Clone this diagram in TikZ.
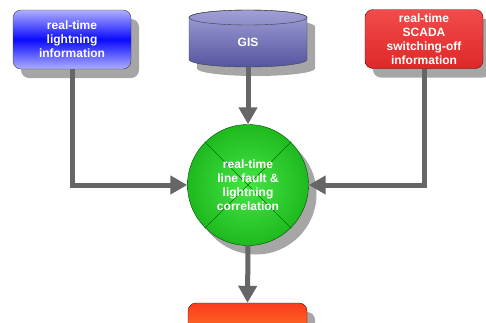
\documentclass[tikz,border=0pt]{standalone}
\usepackage{fontspec}
\setmainfont{Liberation Sans}
\usetikzlibrary{arrows.meta,shadows}

\tikzset{
  boxshadow/.style={drop shadow={shadow xshift=8pt, shadow yshift=-9pt, fill=black!35, opacity=1}},
  labeltext/.style={text=white, align=center, font=\fontsize{12}{14}\selectfont\bfseries},
  infobox/.style={rectangle, rounded corners=8pt, draw=black!75, minimum width=118pt, minimum height=59pt, labeltext, boxshadow},
  flow/.style={line width=5pt, draw=black!60, line join=miter, -{Triangle[width=18pt,length=17pt]}},
}

\begin{document}
\begin{tikzpicture}[x=1pt, y=-1pt]
    \useasboundingbox (0,0) rectangle (486,322);
    \clip (0,0) rectangle (486,322);

    % Input sources (top row)
    \node[infobox, top color={rgb,255:red,175;green,175;blue,255}, bottom color={rgb,255:red,175;green,175;blue,255}, middle color={rgb,255:red,10;green,10;blue,255}] (light) at (72,39.5) {real-time\\lightning\\information};

    \node[infobox, top color={rgb,255:red,242;green,75;blue,75}, bottom color={rgb,255:red,222;green,40;blue,40}, draw=black!60!red] (scada) at (424,39) {real-time\\SCADA\\switching-off\\information};

    % GIS database (cylinder)
    \path[boxshadow, draw=black!75, top color={rgb,255:red,160;green,160;blue,215}, bottom color={rgb,255:red,85;green,85;blue,160}]
        (189,17.5) -- (189,59.5) arc[start angle=180, end angle=360, x radius=59pt, y radius=7.5pt]
        -- (307,17.5) arc[start angle=0, end angle=180, x radius=59pt, y radius=7.5pt] -- cycle;
    \draw[black!75] (248,17.5) ellipse[x radius=59pt, y radius=7.5pt];
    \node[labeltext, minimum width=118pt, minimum height=50pt] (gis) at (248,42) {GIS};

    % Correlation
    \node[circle, minimum size=121pt, draw=black!70!green, inner color={rgb,255:red,70;green,230;blue,70}, outer color={rgb,255:red,30;green,185;blue,30}, boxshadow, labeltext,
          path picture={\draw[black!55!green] (path picture bounding box.north west) -- (path picture bounding box.south east)
                                              (path picture bounding box.north east) -- (path picture bounding box.south west);}]
        (corr) at (248,185) {real-time\\line fault \&\\lightning\\correlation};

    % Output (cut off at the bottom)
    \node[infobox, minimum width=119pt, minimum height=40pt, top color={rgb,255:red,250;green,60;blue,30}, bottom color={rgb,255:red,255;green,130;blue,40}, draw=black!60!red] (outbox) at (247.5,323) {};

    % Connectors
    \draw[flow] (light.south) |- (corr.west);
    \draw[flow] (scada.south) |- (corr.east);
    \draw[flow] (gis.south) -- (corr.north);
    \draw[flow] (corr.south) -- (outbox.north);
\end{tikzpicture}
\end{document}
